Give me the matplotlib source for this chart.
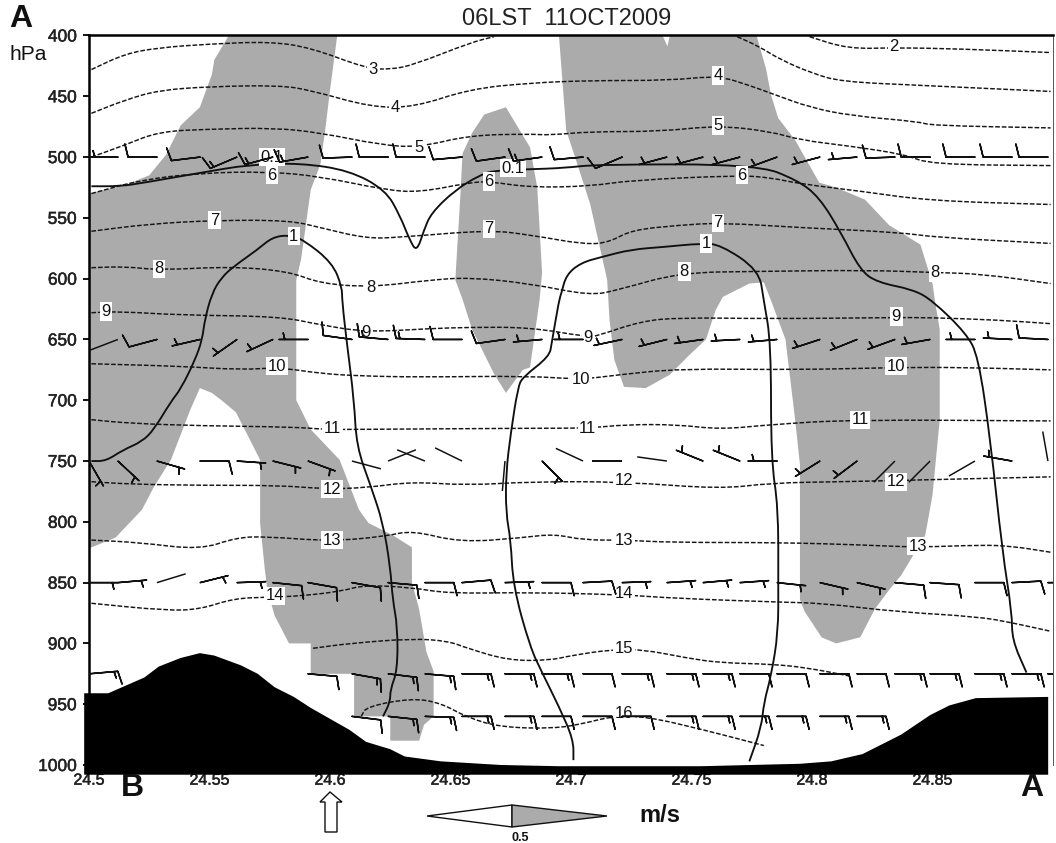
import numpy as np
import matplotlib
matplotlib.use('Agg')
import matplotlib.pyplot as plt
import matplotlib.patheffects as pe
from matplotlib.patches import Polygon, PathPatch
from matplotlib.path import Path

plt.rcParams['font.family'] = ['Liberation Sans', 'DejaVu Sans']

# --- dashed contours: (lon, hPa) ---
dashed_lines = [
    ([24.799, 24.815, 24.835, 24.861, 24.899], [401, 411, 410, 411, 414]),
    ([24.501, 24.515, 24.529, 24.550, 24.575, 24.592, 24.615, 24.625, 24.635, 24.658, 24.668],
     [428, 415, 410, 407, 405, 410, 427, 428, 424, 406, 401]),
    ([24.769, 24.778, 24.787, 24.800, 24.812, 24.845, 24.899], [401, 409, 420, 431, 438, 441, 446]),
    ([24.501, 24.515, 24.529, 24.550, 24.579, 24.592, 24.617, 24.635, 24.658, 24.683, 24.708, 24.741, 24.761, 24.774, 24.785, 24.799, 24.816, 24.845, 24.849, 24.899],
     [464, 453, 445, 442, 441, 445, 459, 459, 444, 439, 437, 437, 433, 441, 449, 459, 466, 471, 474, 476]),
    ([24.501, 24.515, 24.529, 24.550, 24.577, 24.596, 24.621, 24.637, 24.658, 24.683, 24.691, 24.708, 24.737, 24.761, 24.783, 24.795, 24.816, 24.839, 24.849, 24.899],
     [500, 490, 479, 477, 476, 480, 490, 492, 482, 481, 482, 479, 479, 474, 479, 486, 491, 498, 506, 507]),
    ([24.501, 24.521, 24.546, 24.575, 24.596, 24.623, 24.637, 24.658, 24.666, 24.683, 24.708, 24.725, 24.770, 24.783, 24.795, 24.820, 24.849, 24.899],
     [530, 519, 513, 512, 516, 527, 529, 521, 520, 525, 524, 519, 515, 517, 522, 528, 536, 539]),
    ([24.501, 24.525, 24.552, 24.583, 24.596, 24.615, 24.629, 24.666, 24.683, 24.706, 24.716, 24.725, 24.745, 24.762, 24.795, 24.837, 24.851, 24.899],
     [561, 555, 552, 552, 558, 567, 566, 560, 564, 572, 570, 560, 556, 554, 558, 562, 566, 571]),
    ([24.501, 24.515, 24.529, 24.559, 24.583, 24.596, 24.617, 24.642, 24.658, 24.683, 24.708, 24.720, 24.745, 24.778, 24.824, 24.851, 24.870, 24.899],
     [591, 590, 593, 590, 594, 604, 607, 601, 599, 604, 614, 609, 595, 594, 593, 595, 596, 604]),
    ([24.501, 24.513, 24.538, 24.579, 24.596, 24.615, 24.642, 24.658, 24.683, 24.707, 24.711, 24.729, 24.745, 24.783, 24.834, 24.849, 24.877, 24.899],
     [628, 627, 630, 631, 638, 644, 641, 640, 640, 648, 647, 635, 632, 633, 632, 632, 634, 637]),
    ([24.501, 24.538, 24.563, 24.579, 24.596, 24.612, 24.637, 24.683, 24.704, 24.720, 24.745, 24.794, 24.835, 24.863, 24.899],
     [670, 672, 675, 673, 678, 680, 681, 680, 683, 679, 674, 675, 673, 673, 675]),
    ([24.501, 24.517, 24.546, 24.585, 24.598, 24.610, 24.683, 24.707, 24.723, 24.744, 24.762, 24.783, 24.816, 24.899],
     [716, 719, 721, 722, 724, 724, 723, 723, 720, 720, 724, 720, 716, 717]),
    ([24.501, 24.517, 24.546, 24.579, 24.598, 24.615, 24.634, 24.657, 24.683, 24.722, 24.762, 24.783, 24.812, 24.835, 24.899],
     [767, 769, 770, 770, 773, 772, 767, 770, 767, 767, 773, 768, 767, 766, 763]),
    ([24.501, 24.521, 24.546, 24.561, 24.573, 24.600, 24.623, 24.634, 24.654, 24.680, 24.693, 24.705, 24.722, 24.742, 24.787, 24.821, 24.844, 24.870, 24.883, 24.899],
     [815, 817, 823, 813, 812, 816, 812, 807, 817, 813, 810, 815, 815, 817, 817, 819, 821, 819, 820, 825]),
    ([24.501, 24.532, 24.546, 24.560, 24.574, 24.588, 24.605, 24.614, 24.634, 24.649, 24.683, 24.722, 24.744, 24.786, 24.805, 24.835, 24.869, 24.883, 24.899],
     [867, 873, 872, 863, 862, 861, 857, 852, 854, 859, 858, 860, 863, 866, 867, 874, 878, 883, 890]),
    ([24.593, 24.608, 24.634, 24.649, 24.657, 24.674, 24.691, 24.700, 24.717, 24.730, 24.748, 24.762, 24.783, 24.798, 24.816],
     [904, 900, 896, 898, 904, 914, 914, 910, 905, 905, 912, 916, 917, 920, 927]),
    ([24.613, 24.615, 24.634, 24.646, 24.657, 24.671, 24.693, 24.705, 24.717, 24.731, 24.755, 24.780],
     [960, 952, 945, 949, 961, 969, 970, 966, 960, 960, 971, 984]),
]

dashed_labels = ['2', '3', '4', '4', '5', '5', '6', '6', '6', '7', '7', '7', '8', '8', '8', '8',
                 '9', '9', '9', '9', '10', '10', '10', '11', '11', '11', '12', '12', '12',
                 '13', '13', '13', '14', '14', '15', '16']
dashed_label_lon = [24.834, 24.618, 24.627, 24.761, 24.637, 24.761, 24.576, 24.666, 24.771,
                    24.552, 24.666, 24.761, 24.529, 24.617, 24.747, 24.851,
                    24.507, 24.615, 24.707, 24.835, 24.578, 24.704, 24.835,
                    24.601, 24.707, 24.820, 24.601, 24.722, 24.835,
                    24.601, 24.722, 24.844, 24.577, 24.722, 24.722, 24.722]
dashed_label_p = [409, 428, 459, 433, 492, 474, 515, 520, 515,
                  552, 559, 554, 592, 607, 594, 595,
                  627, 644, 648, 631, 672, 683, 672,
                  723, 723, 716, 773, 766, 767,
                  815, 815, 820, 861, 859, 904, 958]

# --- solid contours ---
solid_lines = [
    ([24.501, 24.513, 24.523, 24.546, 24.567, 24.588, 24.608, 24.623, 24.629, 24.633, 24.636, 24.639, 24.642, 24.652, 24.662, 24.668, 24.683, 24.697, 24.711, 24.777, 24.794, 24.803, 24.812, 24.820, 24.827, 24.842, 24.850, 24.864, 24.869, 24.874, 24.879, 24.883, 24.883, 24.889],
     [524, 524, 521, 513, 506, 505, 511, 527, 548, 568, 578, 560, 546, 527, 515, 511, 510, 509, 506, 506, 519, 533, 562, 593, 603, 609, 618, 645, 664, 732, 825, 875, 897, 924]),
    ([24.501, 24.507, 24.514, 24.522, 24.527, 24.534, 24.538, 24.544, 24.547, 24.548, 24.551, 24.555, 24.560, 24.570, 24.576, 24.583, 24.589, 24.601, 24.605, 24.605, 24.607, 24.610, 24.611, 24.617, 24.622, 24.625, 24.626, 24.628, 24.628, 24.625, 24.625, 24.622],
     [750, 750, 741, 734, 724, 701, 691, 667, 650, 634, 612, 599, 590, 576, 566, 564, 568, 587, 607, 618, 653, 700, 738, 771, 801, 837, 864, 886, 922, 938, 948, 960]),
    ([24.701, 24.701, 24.695, 24.688, 24.683, 24.676, 24.675, 24.673, 24.673, 24.675, 24.678, 24.680, 24.691, 24.692, 24.695, 24.696, 24.698, 24.704, 24.713, 24.725, 24.738, 24.754, 24.762, 24.778, 24.780, 24.783, 24.783, 24.786, 24.786, 24.786, 24.783, 24.780, 24.779, 24.774],
     [996, 979, 952, 924, 903, 853, 815, 793, 760, 727, 689, 681, 664, 653, 618, 612, 597, 587, 582, 576, 574, 571, 572, 593, 618, 653, 749, 788, 850, 891, 927, 949, 969, 997]),
]
solid_labels = ['0.1', '0.1', '1', '1']
solid_label_lon = [24.576, 24.676, 24.585, 24.756]
solid_label_p = [500, 509, 565, 571]

# --- shaded areas ---
shade_a_lon = [24.558, 24.603, 24.600, 24.598, 24.596, 24.592, 24.588, 24.586, 24.586, 24.592, 24.604, 24.612, 24.616, 24.626, 24.634, 24.634, 24.637, 24.640, 24.643, 24.643, 24.639, 24.637, 24.625, 24.625, 24.610, 24.610, 24.592, 24.592, 24.583, 24.577, 24.574, 24.573, 24.571, 24.571, 24.561, 24.555, 24.551, 24.546, 24.542, 24.534, 24.527, 24.522, 24.511, 24.501, 24.500, 24.500, 24.515, 24.525, 24.532, 24.538, 24.546, 24.551, 24.552]
shade_a_p = [400, 400, 445, 478, 506, 527, 584, 601, 700, 724, 749, 790, 801, 811, 821, 850, 872, 907, 923, 960, 967, 980, 980, 960, 960, 925, 925, 900, 900, 877, 856, 840, 801, 749, 710, 700, 694, 690, 708, 749, 771, 790, 813, 821, 821, 530, 523, 515, 498, 474, 459, 432, 420]
shade_b_lon = [24.664, 24.673, 24.683, 24.686, 24.688, 24.687, 24.683, 24.680, 24.673, 24.668, 24.659, 24.655, 24.652, 24.654, 24.655, 24.659]
shade_b_p = [465, 459, 492, 525, 595, 617, 673, 675, 694, 678, 642, 617, 601, 535, 497, 480]
shade_c_lon = [24.695, 24.698, 24.702, 24.708, 24.715, 24.716, 24.718, 24.722, 24.731, 24.741, 24.749, 24.756, 24.760, 24.763, 24.774, 24.780, 24.783, 24.789, 24.793, 24.795, 24.795, 24.797, 24.804, 24.810, 24.820, 24.826, 24.832, 24.837, 24.847, 24.850, 24.853, 24.853, 24.851, 24.850, 24.845, 24.832, 24.822, 24.810, 24.803, 24.793, 24.786, 24.783, 24.781, 24.777, 24.741, 24.740, 24.738]
shade_c_p = [400, 478, 502, 539, 601, 634, 667, 689, 690, 679, 663, 650, 626, 615, 604, 603, 618, 650, 716, 753, 864, 874, 895, 900, 895, 872, 856, 844, 811, 778, 716, 642, 618, 604, 572, 556, 535, 525, 521, 486, 468, 449, 428, 400, 400, 409, 400]

# --- terrain ---
terrain_lon = [24.498, 24.508, 24.523, 24.529, 24.538, 24.546, 24.552, 24.563, 24.570, 24.577, 24.585, 24.592, 24.608, 24.615, 24.625, 24.631, 24.646, 24.671, 24.695, 24.754, 24.795, 24.808, 24.821, 24.837, 24.849, 24.857, 24.868, 24.898, 24.898, 24.498]
terrain_p = [941, 941, 928, 919, 912, 908, 910, 918, 925, 936, 944, 953, 971, 981, 987, 993, 997, 1000, 1001, 1001, 999, 997, 991, 975, 959, 951, 945, 944, 1008, 1008]

# --- wind barbs ---
station_lon = np.array([24.5000, 24.5120, 24.5282, 24.5461, 24.5614, 24.5763, 24.5909, 24.6091, 24.6241,
                        24.6394, 24.6548, 24.6726, 24.6880, 24.7050, 24.7212, 24.7398, 24.7548, 24.7701,
                        24.7855, 24.8033, 24.8187, 24.8344, 24.8490, 24.8676, 24.8830, 24.8979])

dir_500 = [np.nan, 270, 270, 263, 247, 255, 260, 268, 270, 270, 265, 262, 262, 265, 247, 255, 255, 255, 250, 255, 265, 268, 270, 270, 270, 270]
spd_500 = [0, 5, 10, 10, 15, 15, 15, 10, 10, 10, 10, 10, 15, 10, 10, 5, 5, 5, 5, 5, 5, 10, 10, 10, 10, 10]
dir_650 = [np.nan, 249, 255, 257, 235, 245, 270, 278, 275, 272, 270, 262, 265, 270, 258, 256, 262, 267, 265, 252, 248, 250, 260, 270, 273, 273]
spd_650 = [0, 0, 10, 5, 5, 5, 5, 10, 15, 15, 10, 10, 5, 5, 5, 5, 5, 5, 5, 5, 5, 5, 5, 5, 5, 10]
dir_750 = [150, 133, 106, 90, 94, 104, 110, 105, 68, 292, 296, 185, 135, 295, 270, 278, 292, 292, 270, 238, 233, 225, 225, 240, 280, 350]
spd_750 = [5, 5, 5, 10, 5, 5, 5, 0, 0, 0, 0, 0, 5, 0, 0, 0, 5, 5, 5, 5, 5, 0, 0, 0, 5, 0]
dir_850 = [90, 85, 73, 76, 88, 96, 100, 100, 95, 90, 85, 88, 90, 87, 88, 86, 85, 86, 96, 103, 103, 95, 94, 90, 87, 90]
spd_850 = [5, 5, 0, 5, 5, 10, 10, 10, 10, 10, 10, 5, 10, 10, 5, 5, 5, 5, 5, 5, 5, 10, 10, 10, 10, 5]
dir_925 = [85, np.nan, np.nan, np.nan, np.nan, np.nan, 95, 100, 97, 95, 90, 90, 90, 90, 90, 90, 90, 90, 90, 90, 90, 90, 90, 90, 90, 90]
spd_925 = [15, 0, 0, 0, 0, 0, 10, 15, 15, 15, 15, 15, 15, 10, 15, 15, 15, 10, 10, 10, 10, 15, 15, 15, 15, 15]
dir_960 = [np.nan] * 7 + [97, 96, 92, 90, 90, 90, 90, 90, 90, 90, 90, 90, 90, 90] + [np.nan] * 5
spd_960 = [0] * 7 + [10, 15, 15, 15, 15, 10, 10, 10, 15, 15, 15, 15, 15, 15] + [0] * 5

barb_levels = [500, 650, 750, 850, 925, 960]
barb_dirs = [dir_500, dir_650, dir_750, dir_850, dir_925, dir_960]
barb_spds = [spd_500, spd_650, spd_750, spd_850, spd_925, spd_960]

y_ticks = [400, 450, 500, 550, 600, 650, 700, 750, 800, 850, 900, 950, 1000]
x_ticks = [24.5, 24.55, 24.6, 24.65, 24.7, 24.75, 24.8, 24.85]
x_tick_labels = ['24.5', '24.55', '24.6', '24.65', '24.7', '24.75', '24.8', '24.85']

W, H = 1056, 843
fig = plt.figure(figsize=(W / 100, H / 100), dpi=100)
ax = fig.add_axes([89 / W, 1 - 765 / H, (1053 - 89) / W, (765 - 35.5) / H])
ax.set_xlim(24.5, 24.9)
ax.set_ylim(1000, 400)

gray = '#ababab'
for slon, sp in [(shade_a_lon, shade_a_p), (shade_b_lon, shade_b_p), (shade_c_lon, shade_c_p)]:
    ax.fill(slon, sp, color=gray, lw=0, zorder=1)


def curve(lon, p, **kw):
    # rounded line through the read points, like the contouring package draws it
    pts = np.column_stack([lon, p])
    mids = (pts[:-1] + pts[1:]) / 2
    verts = [pts[0], mids[0]]
    codes = [Path.MOVETO, Path.LINETO]
    for i in range(1, len(pts) - 1):
        verts += [pts[i], mids[i]]
        codes += [Path.CURVE3, Path.CURVE3]
    verts.append(pts[-1])
    codes.append(Path.LINETO)
    ax.add_patch(PathPatch(Path(verts, codes), fill=False, **kw))


for lon, p in dashed_lines:
    curve(lon, p, edgecolor='#151515', lw=1.05, ls=(0, (3.2, 1.3)), zorder=2)
for lon, p in solid_lines:
    curve(lon, p, edgecolor='#101010', lw=1.35, zorder=3)

box = dict(facecolor='white', edgecolor='none', pad=1.2)
for t, lon, p in zip(solid_labels, solid_label_lon, solid_label_p):
    ax.text(lon, p, t, fontsize=12, ha='center', va='center', bbox=box, zorder=4, color='#111111')
for t, lon, p in zip(dashed_labels, dashed_label_lon, dashed_label_p):
    ax.text(lon, p, t, fontsize=12, ha='center', va='center', bbox=box, zorder=4, color='#111111')

for level, dirs, spds in zip(barb_levels, barb_dirs, barb_spds):
    dirs = np.array(dirs, dtype=float)
    spds = np.array(spds, dtype=float)
    rad = np.deg2rad(dirs)
    east = -np.sin(rad)
    north = -np.cos(rad)
    y = np.full(len(station_lon), level, dtype=float)
    has = spds > 0
    ax.barbs(station_lon[has], y[has], (east * spds)[has], (north * spds)[has],
             length=6.45, pivot='tip', linewidth=1.1, barbcolor='#101010',
             flagcolor='#101010', sizes=dict(height=0.45, width=0.22, spacing=0.13), zorder=6)
    plain = (spds == 0) & ~np.isnan(dirs)
    if plain.any():
        # staffs without feathers point to where the wind comes from
        ax.quiver(station_lon[plain], y[plain], -east[plain], -north[plain],
                  angles='uv', scale_units='dots', scale=1 / 30, units='dots', width=1.5,
                  headwidth=0, headlength=0, headaxislength=0, pivot='tail',
                  color='#101010', zorder=6)

ax.fill(terrain_lon, terrain_p, color='black', lw=0, zorder=8, clip_on=False)

semi = [pe.withStroke(linewidth=0.35, foreground='#222222')]
ax.set_xticks(x_ticks)
ax.set_xticklabels(x_tick_labels, fontsize=11.5, color='#222222', path_effects=semi)
ax.set_yticks(y_ticks)
ax.tick_params(axis='x', length=0, pad=5.5)
ax.tick_params(axis='y', length=4.3, width=1.3, labelsize=12.5, pad=4.5, labelcolor='#222222')
for lab in ax.get_yticklabels():
    lab.set_path_effects(semi)
ax.spines['bottom'].set_visible(False)
ax.spines['left'].set_linewidth(1.8)
ax.spines['top'].set_linewidth(1.8)
ax.spines['right'].set_linewidth(0.7)
ax.spines['right'].set_color('#555555')


def px_text(x, y, s, **kw):
    fig.text(x / W, 1 - y / H, s, ha='center', va='center', color=kw.pop('color', '#111111'), **kw)


px_text(567, 19, '06LST  11OCT2009', fontsize=17, color='#222222')
px_text(21, 19, 'A', fontsize=23, fontweight='bold')
px_text(28, 55, 'hPa', fontsize=15)
px_text(132, 788, 'B', fontsize=23, fontweight='bold', zorder=9)
px_text(1032, 788, 'A', fontsize=23, fontweight='bold', zorder=9)
px_text(660, 815, 'm/s', fontsize=17, fontweight='bold')
px_text(520, 838, '0.5', fontsize=9, fontweight='bold')


def px_poly(points, **kw):
    xy = [(x / W, 1 - y / H) for x, y in points]
    fig.add_artist(Polygon(xy, closed=True, transform=fig.transFigure, **kw))


# reference vector under the section, and the arrow marking the station
px_poly([(427, 816), (512, 805), (512, 827)], facecolor='white', edgecolor='#111111', lw=1)
px_poly([(512, 805), (607, 816), (512, 827)], facecolor=gray, edgecolor='#111111', lw=1)
px_poly([(330, 792), (342, 802), (337, 802), (337, 832), (325, 832), (325, 802), (320, 802)],
        facecolor='white', edgecolor='#111111', lw=1)

fig.savefig('out.png', dpi=100)
